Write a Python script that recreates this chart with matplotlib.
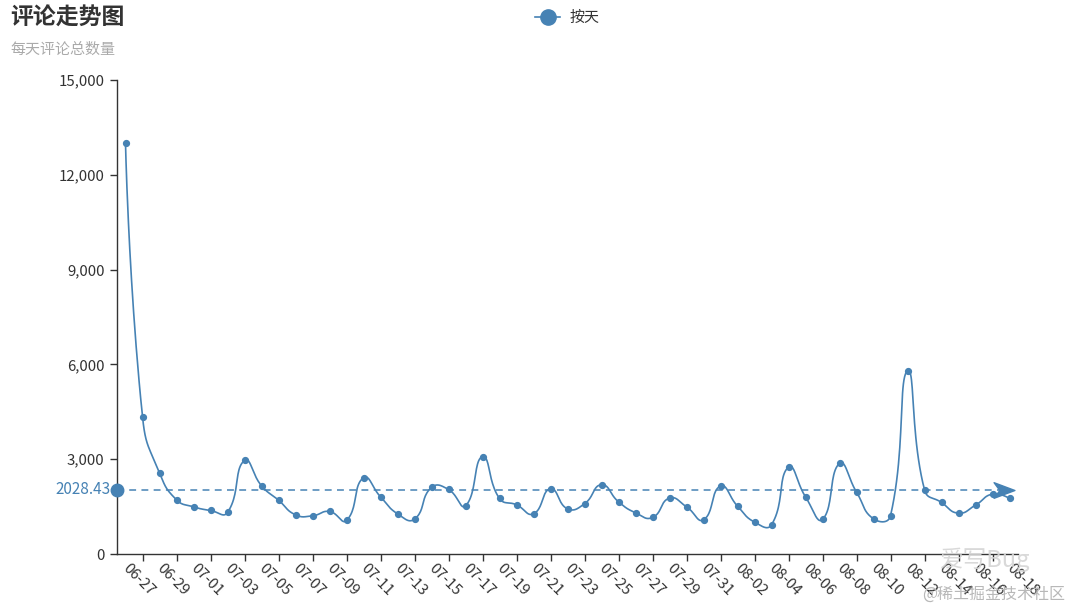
import numpy as np
import matplotlib
matplotlib.use("Agg")
import matplotlib.pyplot as plt
from matplotlib.path import Path
from matplotlib.ticker import FuncFormatter

plt.rcParams['font.family'] = ['Noto Sans CJK SC', 'DejaVu Sans']

# daily comment totals, 06-27 .. 08-18
dates = ["06-27", "06-28", "06-29", "06-30", "07-01", "07-02", "07-03", "07-04", "07-05", "07-06",
         "07-07", "07-08", "07-09", "07-10", "07-11", "07-12", "07-13", "07-14", "07-15", "07-16",
         "07-17", "07-18", "07-19", "07-20", "07-21", "07-22", "07-23", "07-24", "07-25", "07-26",
         "07-27", "07-28", "07-29", "07-30", "07-31", "08-01", "08-02", "08-03", "08-04", "08-05",
         "08-06", "08-07", "08-08", "08-09", "08-10", "08-11", "08-12", "08-13", "08-14", "08-15",
         "08-16", "08-17", "08-18"]
comments = [13000, 4345, 2570, 1716, 1494, 1378, 1314, 2960, 2159, 1704,
            1241, 1209, 1346, 1061, 2412, 1810, 1272, 1104, 2106, 2042,
            1525, 3076, 1758, 1557, 1272, 2063, 1430, 1589, 2190, 1652,
            1304, 1156, 1768, 1494, 1082, 2148, 1515, 1009, 924, 2749,
            1810, 1093, 2865, 1958, 1114, 1209, 5798, 2032, 1631, 1293,
            1547, 1895, 1758]
y_ticks = [0, 3000, 6000, 9000, 12000, 15000]

color = "#4682b4"
axis_color = "#333333"


def smooth_curve(xs, ys, sx, sy, smooth=0.5, n=24):
    # bezier smoothing done in (approximate) pixel space, like echarts
    pts = np.column_stack([np.asarray(xs, float) * sx, np.asarray(ys, float) * sy])
    cps = [pts[0]]
    for i in range(1, len(pts) - 1):
        v = (pts[i + 1] - pts[i - 1]) * smooth
        d0 = np.hypot(*(pts[i] - pts[i - 1]))
        d1 = np.hypot(*(pts[i + 1] - pts[i]))
        s = d0 + d1
        if s:
            d0, d1 = d0 / s, d1 / s
        cps.append(pts[i] - v * d0)
        cps.append(pts[i] + v * d1)
    cps.append(pts[-1])
    t = np.linspace(0, 1, n)[:, None]
    out = []
    for i in range(len(pts) - 1):
        p0, c1, c2, p3 = pts[i], cps[2 * i], cps[2 * i + 1], pts[i + 1]
        seg = ((1 - t) ** 3) * p0 + 3 * ((1 - t) ** 2) * t * c1 + 3 * (1 - t) * t ** 2 * c2 + t ** 3 * p3
        out.append(seg if i == 0 else seg[1:])
    out = np.vstack(out)
    return out[:, 0] / sx, out[:, 1] / sy


fig = plt.figure(figsize=(10.72, 6.11), dpi=100)
ax = fig.add_axes([117 / 1072, 1 - 554 / 611, 901 / 1072, 474 / 611])

x = np.arange(len(dates))
ax.set_xlim(-0.5, len(dates) - 0.5)
ax.set_ylim(0, 15000)

sx = 901 / len(dates)
sy = 474 / 15000
cx, cy = smooth_curve(x, comments, sx, sy)
ax.plot(cx, cy, color=color, lw=1.2, zorder=3, solid_capstyle='round')
ax.plot(x, comments, 'o', color=color, ms=4.2, zorder=4, label="按天")

# average mark line
mean = np.mean(comments)
yt = ax.get_yaxis_transform()
ax.plot([0, 0.988], [mean, mean], transform=yt, color=color, lw=1.1,
        dashes=(4.5, 3.5), zorder=2)
arrow = Path([(1.0, 0.0), (-1.0, 0.75), (-0.45, 0.0), (-1.0, -0.75), (1.0, 0.0)],
             [Path.MOVETO, Path.LINETO, Path.LINETO, Path.LINETO, Path.CLOSEPOLY])
ax.plot([0.985], [mean], transform=yt, marker=arrow, ms=15, color=color,
        mec=color, clip_on=False, zorder=3)
ax.plot([0], [mean], transform=yt, marker='o', ms=9, color=color,
        clip_on=False, zorder=5)
ax.text(-0.0075, mean, f"{mean:.2f}", transform=yt, ha='right', va='center',
        color=color, fontsize=11)

# axes styling
for s in ['top', 'right']:
    ax.spines[s].set_visible(False)
for s in ['left', 'bottom']:
    ax.spines[s].set_color(axis_color)
    ax.spines[s].set_linewidth(1.0)

ax.set_yticks(y_ticks)
ax.yaxis.set_major_formatter(FuncFormatter(lambda v, p: f"{int(v):,}"))
ax.tick_params(axis='y', length=5, width=1, color=axis_color, labelcolor=axis_color,
               labelsize=10.8, pad=4)

ax.set_xticks(x[::2])
ax.set_xticklabels(dates[::2])
ax.set_xticks(x[1::2], minor=True)
ax.tick_params(axis='x', which='major', length=0, labelcolor=axis_color, labelsize=10.8, pad=9)
ax.tick_params(axis='x', which='minor', length=5, width=1, color=axis_color)
for lab in ax.get_xticklabels():
    lab.set_rotation(-45)
    lab.set_ha('left')
    lab.set_va('center')
    lab.set_rotation_mode('anchor')

# title / subtitle
fig.text(10 / 1072, 1 - 7 / 611, "评论走势图", fontsize=16.5, fontweight='bold',
         color=axis_color, ha='left', va='top')
fig.text(10 / 1072, 1 - 43 / 611, "每天评论总数量", fontsize=10.8, color="#aaaaaa",
         ha='left', va='top')

# legend
leg = fig.legend(handles=[plt.Line2D([], [], color=color, marker='o', ms=11, lw=1.2)],
                 labels=["按天"], loc='center', bbox_to_anchor=(567 / 1072, 1 - 18 / 611),
                 frameon=False, fontsize=10.8, handlelength=1.7, handletextpad=0.6)
for t in leg.get_texts():
    t.set_color(axis_color)

# watermark
fig.text(940 / 1072, 1 - 560 / 611, "爱写Bug", fontsize=17, color="#d5d5d5",
         ha='left', va='center', alpha=0.9)
fig.text(1065 / 1072, 1 - 595 / 611, "@稀土掘金技术社区", fontsize=11.5, color="#b8b8b8",
         ha='right', va='center')

fig.savefig("out.png", dpi=100, facecolor='white')
